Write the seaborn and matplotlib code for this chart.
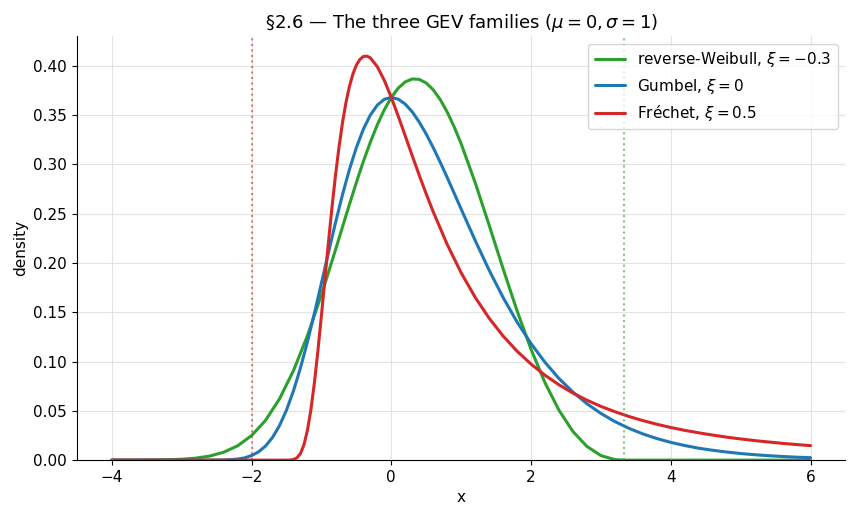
import numpy as np
import pandas as pd
import matplotlib
matplotlib.use("Agg")
import matplotlib.pyplot as plt
import seaborn as sns

# values
weibull_x = [-4.0, -3.8, -3.6, -3.4, -3.2, -3.0, -2.8, -2.6, -2.4, -2.2, -2.0, -1.8, -1.6, -1.4, -1.2,
             -1.0, -0.8, -0.6, -0.5, -0.4, -0.3, -0.2, -0.1, 0.0, 0.1, 0.2, 0.3, 0.4, 0.5, 0.6, 0.7,
             0.8, 0.9, 1.0, 1.2, 1.4, 1.6, 1.8, 2.0, 2.2, 2.4, 2.6, 2.8, 3.0, 3.2, 3.333, 3.6, 3.8,
             4.0, 4.5, 5.0, 5.5, 6.0]
weibull_y = [0.0000, 0.0000, 0.0001, 0.0002, 0.0004, 0.0009, 0.0020, 0.0041, 0.0080, 0.0145, 0.0249,
             0.0403, 0.0621, 0.0908, 0.1262, 0.1677, 0.2130, 0.2592, 0.2816, 0.3029, 0.3225, 0.3401,
             0.3554, 0.3679, 0.3774, 0.3837, 0.3866, 0.3862, 0.3825, 0.3756, 0.3658, 0.3531, 0.3380,
             0.3209, 0.2816, 0.2384, 0.1942, 0.1515, 0.1124, 0.0785, 0.0506, 0.0290, 0.0139, 0.0046,
             0.0005, 0.0000, 0.0, 0.0, 0.0, 0.0, 0.0, 0.0, 0.0]

gumbel_x = [-4.0, -3.5, -3.0, -2.8, -2.6, -2.4, -2.3, -2.2, -2.1, -2.0, -1.9, -1.8, -1.7, -1.6, -1.5,
            -1.4, -1.3, -1.2, -1.1, -1.0, -0.9, -0.8, -0.7, -0.6, -0.5, -0.4, -0.3, -0.2, -0.1, 0.0,
            0.1, 0.2, 0.3, 0.4, 0.5, 0.6, 0.7, 0.8, 0.9, 1.0, 1.2, 1.4, 1.6, 1.8, 2.0, 2.2, 2.4,
            2.6, 2.8, 3.0, 3.2, 3.4, 3.6, 3.8, 4.0, 4.2, 4.4, 4.6, 4.8, 5.0, 5.2, 5.4, 5.6, 5.8, 6.0]
gumbel_y = [0.0, 0.0, 0.0, 0.0000, 0.0000, 0.0002, 0.0005, 0.0011, 0.0023, 0.0046, 0.0084, 0.0143,
            0.0230, 0.0350, 0.0507, 0.0703, 0.0935, 0.1200, 0.1490, 0.1794, 0.2102, 0.2404, 0.2688,
            0.2946, 0.3170, 0.3356, 0.3500, 0.3601, 0.3660, 0.3679, 0.3661, 0.3611, 0.3532, 0.3429,
            0.3307, 0.3170, 0.3022, 0.2867, 0.2707, 0.2546, 0.2229, 0.1927, 0.1650, 0.1401, 0.1182,
            0.0992, 0.0828, 0.0690, 0.0572, 0.0474, 0.0391, 0.0323, 0.0266, 0.0219, 0.0180, 0.0148,
            0.0121, 0.0100, 0.0082, 0.0067, 0.0055, 0.0045, 0.0037, 0.0030, 0.0025]

frechet_x = [-4.0, -3.0, -2.0, -1.6, -1.5, -1.45, -1.4, -1.35, -1.3, -1.25, -1.2, -1.15, -1.1, -1.05,
             -1.0, -0.95, -0.9, -0.85, -0.8, -0.75, -0.7, -0.65, -0.6, -0.55, -0.5, -0.45, -0.4,
             -0.35, -0.3, -0.2, -0.1, 0.0, 0.1, 0.2, 0.3, 0.4, 0.5, 0.6, 0.8, 1.0, 1.2, 1.4, 1.6,
             1.8, 2.0, 2.2, 2.4, 2.6, 2.8, 3.0, 3.2, 3.4, 3.6, 3.8, 4.0, 4.2, 4.4, 4.6, 4.8, 5.0,
             5.2, 5.4, 5.6, 5.8, 6.0]
frechet_y = [0.0, 0.0, 0.0, 0.0, 0.0000, 0.0001, 0.0006, 0.0023, 0.0067, 0.0155, 0.0302, 0.0513,
             0.0787, 0.1110, 0.1465, 0.1836, 0.2205, 0.2556, 0.2879, 0.3166, 0.3415, 0.3622, 0.3788,
             0.3915, 0.4006, 0.4064, 0.4094, 0.4098, 0.4080, 0.3991, 0.3852, 0.3679, 0.3488, 0.3288,
             0.3087, 0.2890, 0.2700, 0.2519, 0.2188, 0.1900, 0.1652, 0.1440, 0.1259, 0.1105, 0.0974,
             0.0861, 0.0764, 0.0680, 0.0608, 0.0545, 0.0491, 0.0443, 0.0401, 0.0364, 0.0331, 0.0302,
             0.0277, 0.0254, 0.0233, 0.0215, 0.0198, 0.0184, 0.0170, 0.0158, 0.0147]

labels = [r"reverse-Weibull, $\xi=-0.3$", r"Gumbel, $\xi=0$", r"Fréchet, $\xi=0.5$"]
colors = ["#2ca02c", "#1f77b4", "#d62728"]
bounds = [3.333, -2.0]  # weibull upper bound, frechet lower bound

sns.set_style("ticks")
plt.rcParams['font.family'] = ['DejaVu Sans']
for k in ["text.color", "axes.labelcolor", "xtick.color", "ytick.color", "axes.edgecolor"]:
    plt.rcParams[k] = "black"
plt.rcParams["xtick.labelsize"] = 11
plt.rcParams["ytick.labelsize"] = 11
plt.rcParams["axes.labelsize"] = 11

fig, ax = plt.subplots(figsize=(8.54, 5.17), dpi=100)

series = [(weibull_x, weibull_y), (gumbel_x, gumbel_y), (frechet_x, frechet_y)]
for (xs, ys), lab, col in zip(series, labels, colors):
    df = pd.DataFrame({"x": xs, "y": ys})
    sns.lineplot(data=df, x="x", y="y", ax=ax, color=col, lw=2.2, label=lab, sort=True)

ax.axvline(bounds[1], color=colors[2], ls=":", lw=1.5, alpha=0.6)
ax.axvline(bounds[0], color=colors[0], ls=":", lw=1.5, alpha=0.6)

ax.set_xlim(-4.5, 6.5)
ax.set_ylim(0, 0.43)
ax.set_yticks(np.arange(0, 0.41, 0.05))
ax.yaxis.set_major_formatter(matplotlib.ticker.FormatStrFormatter('%.2f'))
ax.set_xticks([-4, -2, 0, 2, 4, 6])
ax.grid(True, color="#dddddd", lw=0.8, alpha=0.8)
ax.set_xlabel("x")
ax.set_ylabel("density")
ax.set_title(r"§2.6 — The three GEV families ($\mu=0, \sigma=1$)", fontsize=13)
sns.despine(ax=ax)
ax.legend(loc="upper right", fontsize=11)

fig.subplots_adjust(left=0.09, right=0.99, top=0.93, bottom=0.11)
fig.savefig("out.png", dpi=100)
